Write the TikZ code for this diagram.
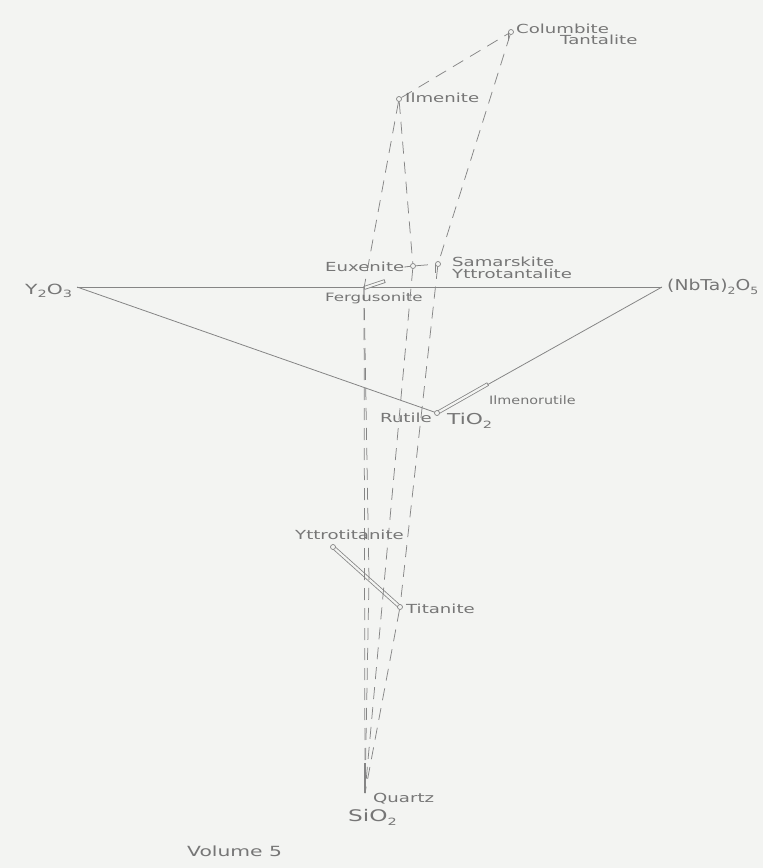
\documentclass[tikz,border=0pt]{standalone}
\usepackage{fontspec}
\newfontfamily\stencil[FakeStretch=1.45]{DejaVu Sans}
\newfontfamily\stencilnarrow[FakeStretch=1.25]{DejaVu Sans}
\definecolor{bgc}{HTML}{F3F4F2}
\definecolor{lc}{HTML}{858585}
\definecolor{tc}{HTML}{767676}
\newcommand\dn[1]{\raisebox{-0.45ex}{\fontsize{10}{10}\selectfont #1}}
\pgfdeclarelayer{back}
\pgfdeclarelayer{lines}
\pgfsetlayers{back,lines,main}
\tikzset{
  ln/.style={draw=lc, line width=0.8pt},
  dsh/.style={draw=lc, line width=0.75pt, dash pattern=on 12pt off 8pt},
  lbl/.style={text=tc, font=\stencil\fontsize{12.5}{14}\selectfont, inner sep=0pt, anchor=west},
  cmp/.style={text=tc, font=\stencil\fontsize{16}{18}\selectfont, inner sep=0pt, anchor=west},
  pt/.style={circle, draw=lc, line width=0.7pt, fill=bgc, minimum size=5pt, inner sep=0pt},
  slabout/.style={draw=lc, line width=3.8pt},
  slabin/.style={draw=bgc, line width=2.2pt, shorten <=0.9pt, shorten >=0.9pt},
}
\begin{document}
\begin{tikzpicture}[x=1pt,y=-1pt]
\useasboundingbox (0,0) rectangle (763,868);
\begin{pgfonlayer}{back}
\fill[bgc] (0,0) rectangle (763,868);
\end{pgfonlayer}
% points
\coordinate (Y) at (77,287);
\coordinate (N) at (662,287);
\node[pt] (T) at (437,413) {};
\node[pt] (I) at (399,99) {};
\node[pt] (C) at (511,32) {};
\node[pt] (E) at (413,266) {};
\node[pt] (S) at (438,264) {};
\coordinate (F) at (364,288);
\coordinate (F2) at (385,281);
\node[pt] (Yt) at (333,547) {};
\node[pt] (Ti) at (400,607) {};
\coordinate (K) at (369,579);
\coordinate (Q) at (365,793);
\coordinate (Qt) at (365,763);
\coordinate (IR) at (488,384);
% labels
\node[lbl] (lC) at (516,29) {Columbite};
\node[lbl] (lTa) at (560,40) {Tantalite};
\node[lbl] (lI) at (405,98) {Ilmenite};
\node[lbl] (lE) at (325,267) {Euxenite};
\node[lbl] (lS) at (452,262) {Samarskite};
\node[lbl] (lYta) at (452,274) {Yttrotantalite};
\node[lbl, font=\stencil\fontsize{11.5}{13}\selectfont] (lF) at (325,298) {Fergusonite};
\node[lbl] (lR) at (380,418) {Rutile};
\node[lbl, font=\stencilnarrow\fontsize{11.5}{13}\selectfont] (lIR) at (489,400) {Ilmenorutile};
\node[lbl] (lYt) at (295,535) {Yttrotitanite};
\node[lbl] (lTi) at (406,609) {Titanite};
\node[lbl] (lQ) at (373,799) {Quartz};
\node[cmp, font=\stencil\fontsize{14}{16}\selectfont] (cY) at (25,291) {Y\dn{2}O\dn{3}};
\node[cmp, font=\stencilnarrow\fontsize{15}{17}\selectfont] (cN) at (667,287) {(NbTa)\dn{2}O\dn{5}};
\node[cmp, font=\stencil\fontsize{15}{17}\selectfont] (cT) at (447,421) {TiO\dn{2}};
\node[cmp] (cS) at (348,817) {SiO\dn{2}};
\node[cmp, font=\stencil\fontsize{14}{16}\selectfont] (vol) at (187,851) {Volume 5};
\begin{pgfonlayer}{lines}
% solid triangle
\draw[ln] (Y) -- (N);
\draw[ln] (Y) -- (T.center);
\draw[ln] (N) -- (T.center);
% slabs
\draw[slabout] (T.center) -- (IR);
\draw[slabin] (T.center) -- (IR);
\draw[slabout] (Yt.center) -- (Ti.center);
\draw[slabin] (Yt.center) -- (Ti.center);
\draw[slabout] (F) -- (F2);
\draw[slabin] (F) -- (F2);
% stems of p-shaped marks
\draw[ln] (C.west) -- ++(0,9);
\draw[ln] (S.west) -- ++(0,9);
\draw[ln] (lE.east) -- (E);
% dashed projections
\draw[dsh] (I) -- (C);
\draw[dsh] (C) -- (S);
\draw[dsh] (I) -- (F);
\draw[dsh] (I) -- (E);
\draw[dsh] (E) -- (S);
\draw[dsh] (F) -- (Q);
\draw[dsh] (F) -- (K) -- (Q);
\draw[dsh] (E) -- (Q);
\draw[dsh] (S) -- (Ti);
\draw[dsh] (Ti) -- (Q);
% quartz mark
\draw[draw=lc, line width=1.5pt] (Qt) -- (Q);
\end{pgfonlayer}
\end{tikzpicture}
\end{document}
